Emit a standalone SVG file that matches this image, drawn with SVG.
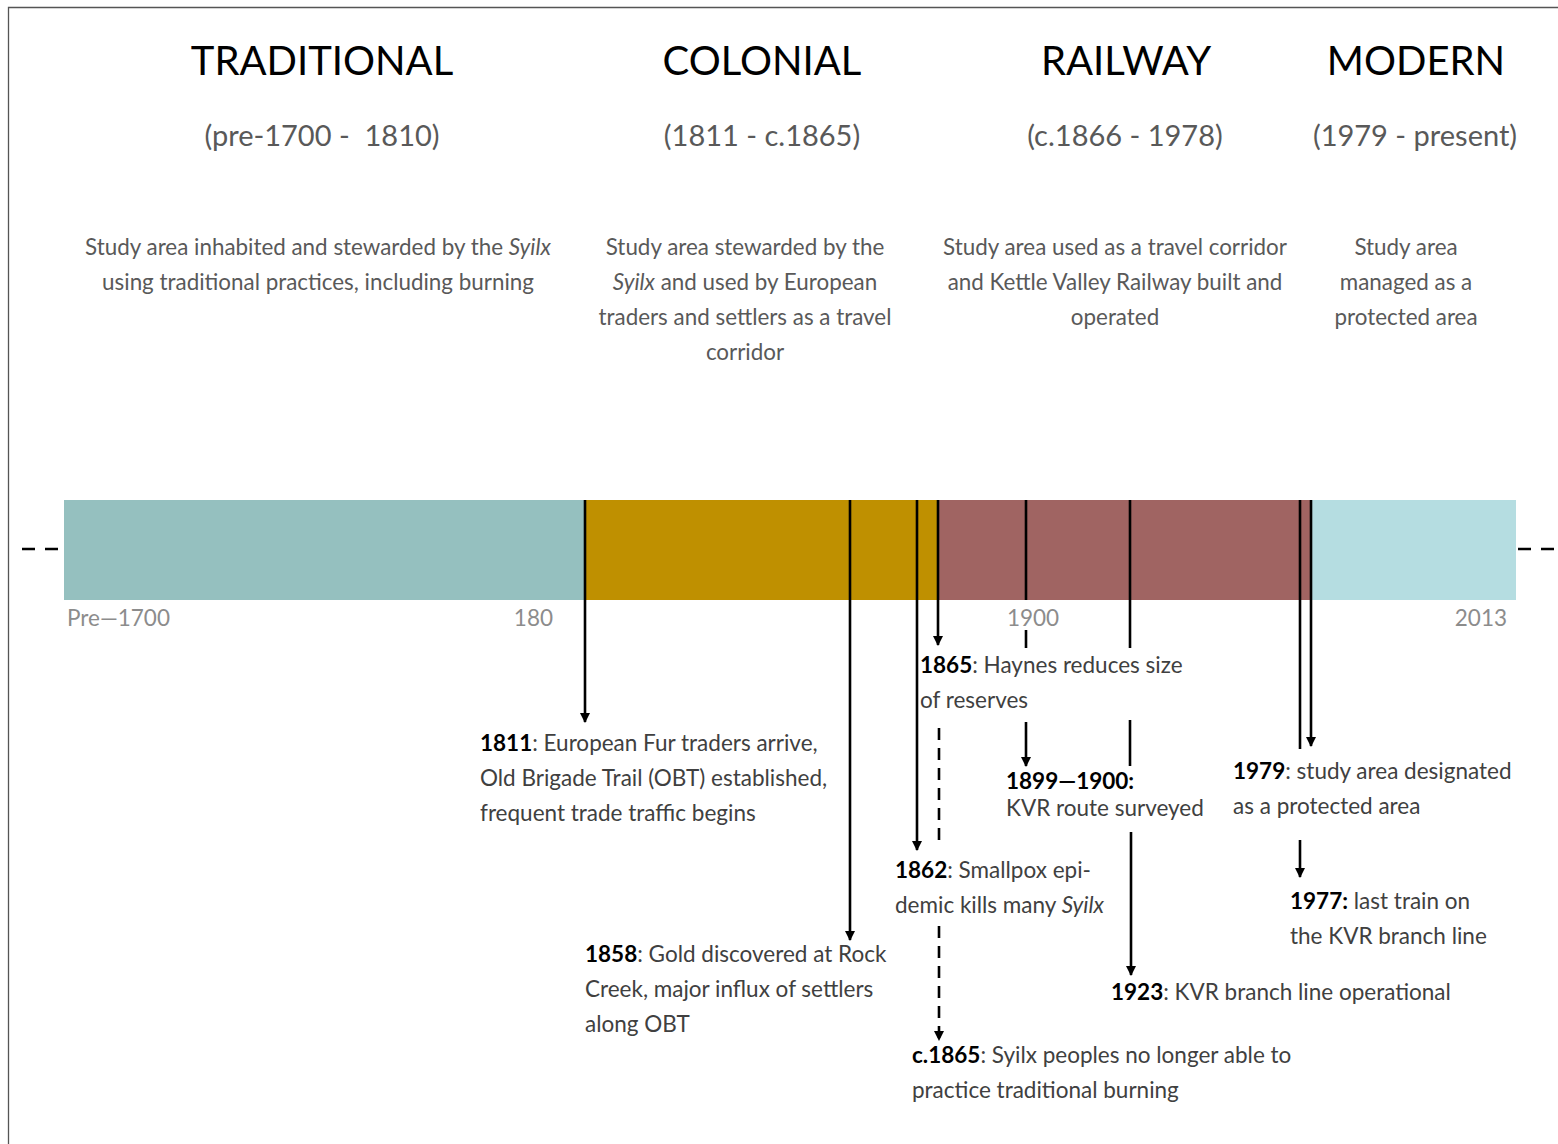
<svg xmlns="http://www.w3.org/2000/svg" width="1558" height="1144" viewBox="0 0 1558 1144">
<defs>
<marker id="ah" viewBox="0 0 10 10" refX="9" refY="5" markerWidth="4" markerHeight="4" orient="auto" markerUnits="strokeWidth">
<path d="M0,0 L10,5 L0,10 z" fill="#000"/>
</marker>
</defs>
<style>
.h{font-family:Lato,"Open Sans",sans-serif;font-size:40px;fill:#000;text-anchor:middle}
.s{font-family:Lato,"Open Sans",sans-serif;font-size:29px;fill:#595959;text-anchor:middle}
.d{font-family:Lato,"Open Sans",sans-serif;font-size:22.4px;fill:#595959;text-anchor:middle}
.ax{font-family:Lato,"Open Sans",sans-serif;font-size:22.5px;fill:#8c8c8c}
.a{font-family:Lato,"Open Sans",sans-serif;font-size:22.5px;fill:#404040}
.b{font-weight:bold;fill:#000}
.i{font-style:italic}
.ln{stroke:#000;stroke-width:2.6;fill:none}
.dl{stroke:#000;stroke-width:2.6;fill:none;stroke-dasharray:12,8}
.ed{stroke:#000;stroke-width:2.5;fill:none;stroke-dasharray:13,10}
</style>
<rect x="0" y="0" width="1558" height="1144" fill="#fff"/>
<path d="M8.5,1144 V7.5 H1558" fill="none" stroke="#555" stroke-width="1.3"/>
<g id="traditional">
<text class="h" x="322" y="75">TRADITIONAL</text>
<text class="s" x="322" y="146" xml:space="preserve">(pre-1700 -  1810)</text>
<text class="d" x="318" y="255">Study area inhabited and stewarded by the <tspan class="i">Syilx</tspan></text>
<text class="d" x="318" y="290">using traditional practices, including burning</text>
</g>
<g id="colonial">
<text class="h" x="762" y="75">COLONIAL</text>
<text class="s" x="762" y="146">(1811 - c.1865)</text>
<text class="d" x="745" y="255">Study area stewarded by the</text>
<text class="d" x="745" y="290"><tspan class="i">Syilx</tspan> and used by European</text>
<text class="d" x="745" y="325">traders and settlers as a travel</text>
<text class="d" x="745" y="360">corridor</text>
</g>
<g id="railway">
<text class="h" x="1126" y="75">RAILWAY</text>
<text class="s" x="1125" y="146">(c.1866 - 1978)</text>
<text class="d" x="1115" y="255">Study area used as a travel corridor</text>
<text class="d" x="1115" y="290">and Kettle Valley Railway built and</text>
<text class="d" x="1115" y="325">operated</text>
</g>
<g id="modern">
<text class="h" x="1416" y="75">MODERN</text>
<text class="s" x="1415" y="146">(1979 - present)</text>
<text class="d" x="1406" y="255">Study area</text>
<text class="d" x="1406" y="290">managed as a</text>
<text class="d" x="1406" y="325">protected area</text>
</g>
<g id="bar">
<rect x="64" y="500" width="521" height="100" fill="#95C0BF"/>
<rect x="585" y="500" width="353" height="100" fill="#BF9000"/>
<rect x="938" y="500" width="373" height="100" fill="#A06462"/>
<rect x="1311" y="500" width="205" height="100" fill="#B5DDE1"/>
<path class="ed" d="M22,549 H58"/>
<path class="ed" d="M1518,549 H1558"/>
<text class="ax" x="67" y="626">Pre—1700</text>
<text class="ax" x="553" y="626" text-anchor="end">180</text>
<text class="ax" x="1033" y="626" text-anchor="middle">1900</text>
<text class="ax" x="1507" y="626" text-anchor="end">2013</text>
</g>
<g id="connectors">
<path class="ln" d="M585,500 V722" marker-end="url(#ah)"/>
<path class="ln" d="M850,500 V940" marker-end="url(#ah)"/>
<path class="ln" d="M917,500 V850" marker-end="url(#ah)"/>
<path class="ln" d="M938,500 V645" marker-end="url(#ah)"/>
<path class="ln" d="M1026,500 V600"/>
<path class="ln" d="M1026,630 V648"/>
<path class="ln" d="M1026,722 V766" marker-end="url(#ah)"/>
<path class="ln" d="M1130,500 V648"/>
<path class="ln" d="M1130,720 V766"/>
<path class="ln" d="M1131,832 V975" marker-end="url(#ah)"/>
<path class="ln" d="M1300,500 V749"/>
<path class="ln" d="M1311,500 V746" marker-end="url(#ah)"/>
<path class="ln" d="M1300,840 V877" marker-end="url(#ah)"/>
<path class="dl" d="M939,728 V846"/>
<path class="dl" d="M939,926 V1040" marker-end="url(#ah)"/>
</g>
<g id="e1811">
<text class="a" x="480" y="751"><tspan class="b">1811</tspan>: European Fur traders arrive,</text>
<text class="a" x="480" y="786">Old Brigade Trail (OBT) established,</text>
<text class="a" x="480" y="821">frequent trade traffic begins</text>
</g>
<g id="e1858">
<text class="a" x="585" y="962"><tspan class="b">1858</tspan>: Gold discovered at Rock</text>
<text class="a" x="585" y="997">Creek, major influx of settlers</text>
<text class="a" x="585" y="1032">along OBT</text>
</g>
<g id="e1865">
<text class="a" x="920" y="673"><tspan class="b">1865</tspan>: Haynes reduces size</text>
<text class="a" x="920" y="708">of reserves</text>
</g>
<g id="e1862">
<text class="a" x="895" y="878"><tspan class="b">1862</tspan>: Smallpox epi-</text>
<text class="a" x="895" y="913">demic kills many <tspan class="i">Syilx</tspan></text>
</g>
<g id="e1899">
<text class="a" x="1006" y="789"><tspan class="b">1899—1900:</tspan></text>
<text class="a" x="1006" y="816">KVR route surveyed</text>
</g>
<g id="e1923">
<text class="a" x="1111" y="1000"><tspan class="b">1923</tspan>: KVR branch line operational</text>
</g>
<g id="ec1865">
<text class="a" x="912" y="1063"><tspan class="b">c.1865</tspan>: Syilx peoples no longer able to</text>
<text class="a" x="912" y="1098">practice traditional burning</text>
</g>
<g id="e1979">
<text class="a" x="1233" y="779"><tspan class="b">1979</tspan>: study area designated</text>
<text class="a" x="1233" y="814">as a protected area</text>
</g>
<g id="e1977">
<text class="a" x="1290" y="909"><tspan class="b">1977:</tspan> last train on</text>
<text class="a" x="1290" y="944">the KVR branch line</text>
</g>
</svg>
